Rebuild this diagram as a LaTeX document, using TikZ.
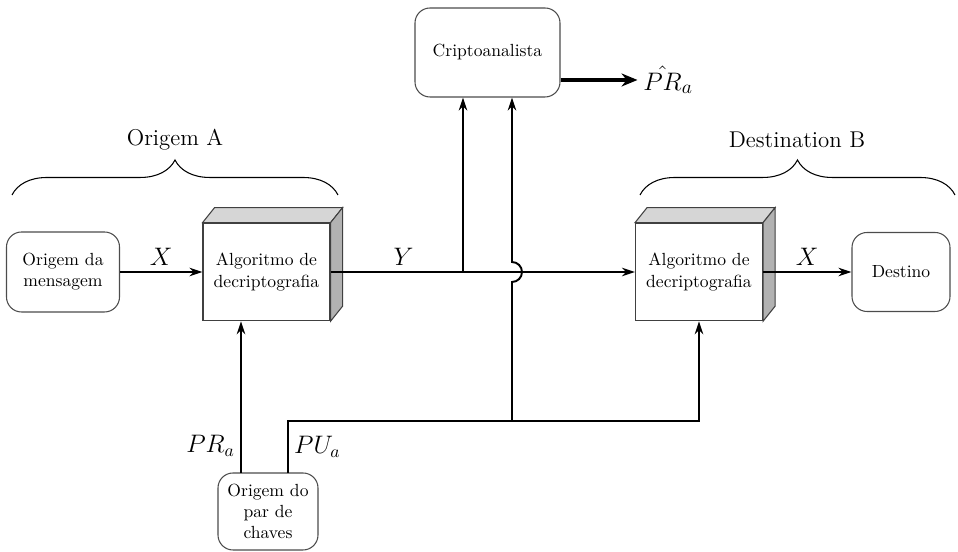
\documentclass[tikz,border=0pt]{standalone}
\usetikzlibrary{positioning,arrows.meta,decorations.pathreplacing}

\begin{document}
\begin{tikzpicture}[
  font=\fontsize{10}{12}\selectfont,
  rbox/.style={draw=black!70, line width=0.6pt, rounded corners=3mm, align=center, inner sep=2pt},
  algo/.style={draw=black!75, line width=0.6pt, fill=white, align=center, minimum width=2.54cm, minimum height=1.95cm},
  topface/.style={fill=black!16, draw=black!75, line width=0.6pt},
  sideface/.style={fill=black!30, draw=black!75, line width=0.6pt},
  wire/.style={line width=1.1pt},
  arr/.style={wire, -{Stealth[length=2.6mm, width=1.7mm]}},
  bigarr/.style={line width=2.6pt, -{Stealth[length=3.2mm, width=2.6mm]}},
  lbl/.style={font=\fontsize{13}{15}\selectfont, inner sep=3pt},
  mlbl/.style={font=\fontsize{14}{16}\selectfont, inner sep=3pt},
  brace/.style={decorate, decoration={brace, amplitude=7mm}, line width=0.6pt}
]
\useasboundingbox (0,0) rectangle (19.16,11.04);

% boxes
\node[rbox, minimum width=2.26cm, minimum height=1.6cm] (msg) at (1.26,5.60) {Origem da\\mensagem};
\node[algo] (enc) at (5.33,5.60) {Algoritmo de\\decriptografia};
\node[algo] (dec) at (13.98,5.60) {Algoritmo de\\decriptografia};
\node[rbox, minimum width=1.96cm, minimum height=1.58cm] (dest) at (18.02,5.60) {Destino};
\node[rbox, minimum width=2.9cm, minimum height=1.78cm] (crypt) at (9.75,9.99) {Criptoanalista};
\node[rbox, minimum width=2.0cm, minimum height=1.54cm] (keys) at (5.36,0.81) {Origem do\\par de\\chaves};

% 3d faces of the algorithm boxes
\foreach \b in {enc,dec} {
  \filldraw[topface] (\b.north west) -- ([shift={(0.24,0.3)}]\b.north west)
    -- ([shift={(0.24,0.3)}]\b.north east) -- (\b.north east) -- cycle;
  \filldraw[sideface] (\b.north east) -- ([shift={(0.24,0.3)}]\b.north east)
    -- ([shift={(0.24,0.3)}]\b.south east) -- (\b.south east) -- cycle;
}

% braces
\node[lbl] (srcA) at (3.5,8.24) {Origem A};
\node[lbl] (dstB) at (15.94,8.24) {Destination B};
\coordinate (braceAl) at (0.24,7.14);
\coordinate (braceAr) at (6.76,7.14);
\coordinate (braceBl) at (12.8,7.14);
\coordinate (braceBr) at (19.1,7.14);
\draw[brace] (braceAl) -- (braceAr);
\draw[brace] (braceBl) -- (braceBr);

% junctions
\coordinate (yfork) at (9.26,5.60);
\coordinate (prfoot) at (4.82,1.58);
\coordinate (pufoot) at (5.76,1.58);
\coordinate (puturn) at (5.76,2.62);
\coordinate (pufork) at (10.24,2.62);

% message path
\draw[arr] (msg) -- node[mlbl, above] (x1) {$X$} (enc);
\draw[arr] (enc) -- node[mlbl, above, pos=0.24] (y1) {$Y$} (dec);
\draw[arr] (dec) -- node[mlbl, above] (x2) {$X$} (dest);

% keys
\draw[arr] (prfoot) -- node[mlbl, left, pos=0.18] (pr) {$PR_a$} (prfoot |- enc.south);
\draw[arr] (pufoot) -- node[mlbl, right, midway] (pu) {$PU_a$} (puturn) -| (dec.south);

% cryptanalyst
\draw[arr] (yfork) -- (yfork |- crypt.south);
\draw[arr] (pufork) -- ++(0,2.78) arc[start angle=-90, end angle=90, radius=0.2] -- (pufork |- crypt.south);
\draw[bigarr] ([yshift=-5.5mm]crypt.east) -- ++(1.54,0) node[mlbl, right, inner sep=2pt, font=\fontsize{15}{17}\selectfont] (prhat) {$\hat{PR}_a$};
\end{tikzpicture}
\end{document}
